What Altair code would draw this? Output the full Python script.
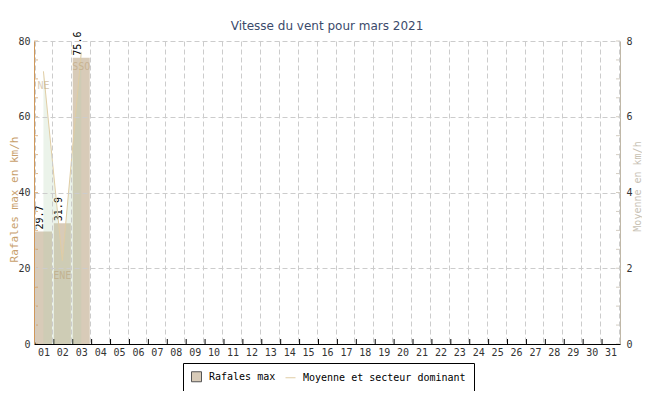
import altair as alt
import pandas as pd

# ---- data ----
jours = ["01", "02", "03", "04", "05", "06", "07", "08", "09", "10", "11",
         "12", "13", "14", "15", "16", "17", "18", "19", "20", "21", "22",
         "23", "24", "25", "26", "27", "28", "29", "30", "31"]
jours_mesures = ["01", "02", "03"]
rafales = [29.7, 31.9, 75.6]
moyenne = [7.2, 2.2, 7.7]
secteurs = ["NE", "ENE", "SSO"]
ticks_gauche = [0, 5, 10, 15, 20, 25, 30, 35, 40, 45, 50, 55, 60, 65, 70, 75, 80]
labels_gauche = [0, 20, 40, 60, 80]
ticks_droite = [0, 0.5, 1, 1.5, 2, 2.5, 3, 3.5, 4, 4.5, 5, 5.5, 6, 6.5, 7, 7.5, 8]
labels_droite = [0, 2, 4, 6, 8]
legend_series = ["Rafales max", "Moyenne et secteur dominant"]

df = pd.DataFrame({"jour": jours_mesures, "rafales": rafales,
                   "moyenne": moyenne, "secteur": secteurs})
df_jours = pd.DataFrame({"jour": jours})
df_tg = pd.DataFrame({"v": ticks_gauche})
df_td = pd.DataFrame({"v": ticks_droite})
df_leg = pd.DataFrame({"serie": legend_series})

MONO = "DejaVu Sans Mono"
W, H = 586, 303
TAN = "#d8cbb8"
LINE_C = "#e0cda4"
LEFT_C = "#d0985a"
RIGHT_C = "#c0b8a8"
GRID = "#cccccc"

xscale = alt.Scale(domain=jours, paddingInner=0.1, paddingOuter=0.05)
x_axis = alt.Axis(title=None, tickBand="extent", grid=True, gridDash=[5, 3],
                  gridColor=GRID, ticks=False, tickSize=0, domainColor="#000000",
                  labelFont=MONO, labelFontSize=10, labelColor="#333333",
                  labelAngle=0, labelPadding=3, zindex=1)
X = alt.X("jour:O", scale=xscale, axis=x_axis, title=None)
Xp = alt.X("jour:O", scale=xscale, title=None)

TL = "Rafales max en km/h"
TR = "Moyenne en km/h"
left_axis = alt.Axis(values=labels_gauche, grid=True, gridDash=[5, 3], gridColor=GRID,
                     ticks=False, tickSize=0, domainColor=LEFT_C, labelFont=MONO,
                     labelFontSize=10, labelColor="#333333", labelPadding=4,
                     titleFont=MONO, titleFontSize=11, titleFontWeight="normal",
                     titleColor="#c8a06c", titleX=-20, titleY=158,
                     titleBaseline="middle", zindex=1)
right_axis = alt.Axis(orient="right", values=labels_droite, grid=False,
                      ticks=False, tickSize=0, domainColor=RIGHT_C, labelFont=MONO,
                      labelFontSize=10, labelColor="#333333", labelPadding=6,
                      titleFont=MONO, titleFontSize=10, titleFontWeight="normal",
                      titleColor="#c8c2b4", titleAngle=270, titleX=17, titleY=145,
                      titleBaseline="middle")
yl_scale = alt.Scale(domain=[0, 80], nice=False)
yr_scale = alt.Scale(domain=[0, 8], nice=False)

bars = alt.Chart(df).mark_bar(color=TAN).encode(
    x=X, y=alt.Y("rafales:Q", scale=yl_scale, axis=left_axis, title=TL))
bar_labels = alt.Chart(df).mark_text(
    angle=270, align="left", baseline="alphabetic", dx=2, font=MONO,
    fontSize=10, color="#000000").encode(
    x=Xp, y=alt.Y("rafales:Q", scale=yl_scale, title=TL),
    text=alt.Text("rafales:Q", format=".1f"))
lticks = alt.Chart(df_tg).mark_tick(orient="horizontal", size=4, thickness=1,
                                    color=LEFT_C).encode(
    y=alt.Y("v:Q", scale=yl_scale, title=TL), x=alt.value(2))
xticks = alt.Chart(df_jours).mark_rule(color="#000000").encode(
    x=alt.X("jour:O", scale=xscale, title=None, bandPosition=0),
    y=alt.value(H - 5), y2=alt.value(H))
left = alt.layer(bars, bar_labels, lticks, xticks)

area = alt.Chart(df).mark_area(color="#b1cfad", opacity=0.25).encode(
    x=Xp, y=alt.Y("moyenne:Q", scale=yr_scale, axis=right_axis, title=TR))
line = alt.Chart(df).mark_line(color=LINE_C, strokeWidth=1).encode(
    x=Xp, y=alt.Y("moyenne:Q", scale=yr_scale, title=TR))
dirs = alt.Chart(df).mark_text(dy=15, baseline="middle", font=MONO, fontSize=10,
                               color="#b89c70", opacity=0.5).encode(
    x=Xp, y=alt.Y("moyenne:Q", scale=yr_scale, title=TR), text="secteur:N")
rticks = alt.Chart(df_td).mark_tick(orient="horizontal", size=4, thickness=1,
                                    color=RIGHT_C).encode(
    y=alt.Y("v:Q", scale=yr_scale, title=TR), x=alt.value(W - 2))

leg = alt.Legend(title=None, orient="none", legendX=149, legendY=322,
                 direction="horizontal", strokeColor="#000000",
                 fillColor="#ffffff", padding=8, symbolSize=100,
                 labelFont=MONO, labelFontSize=10, labelColor="#000000",
                 labelOffset=7, columnPadding=7, symbolOpacity=1,
                 labelLimit=400, symbolStrokeWidth=1)
legend_layer = alt.Chart(df_leg).mark_point(opacity=0, filled=True).encode(
    x=alt.value(0), y=alt.value(0),
    shape=alt.Shape("serie:N",
                    scale=alt.Scale(domain=legend_series, range=["square", "M-1,0H1"]),
                    legend=leg),
    fill=alt.Fill("serie:N",
                  scale=alt.Scale(domain=legend_series, range=[TAN, LINE_C]),
                  legend=leg),
    stroke=alt.Stroke("serie:N",
                      scale=alt.Scale(domain=legend_series, range=["#555555", LINE_C]),
                      legend=leg))
right = alt.layer(area, line, dirs, rticks, legend_layer)

chart = alt.layer(left, right).resolve_scale(y="independent").properties(
    width=W, height=H,
    padding={"left": 26, "top": 33, "right": 22, "bottom": 47},
    autosize=alt.AutoSizeParams(type="none"),
    title=alt.TitleParams("Vitesse du vent pour mars 2021", font="DejaVu Sans",
                          fontSize=12, fontWeight="normal", color="#3b4a6b",
                          anchor="middle", frame="group", baseline="middle",
                          offset=-6),
).configure_view(stroke=None)

chart.save("out.html", embed_options={"renderer": "svg", "actions": False})
